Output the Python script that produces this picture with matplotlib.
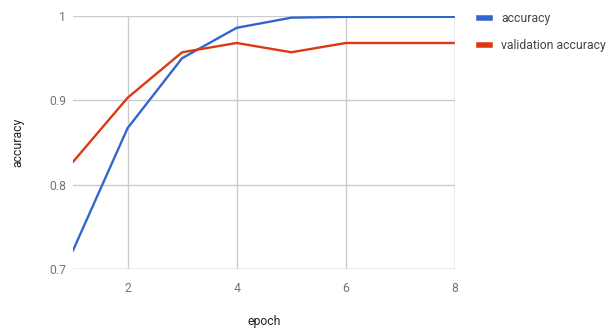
import matplotlib.pyplot as plt
from matplotlib.lines import Line2D

epochs = [1, 2, 3, 4, 5, 6, 7, 8]
accuracy = [0.722, 0.867, 0.950, 0.986, 0.998, 0.999, 0.999, 0.999]
val_accuracy = [0.827, 0.903, 0.957, 0.968, 0.957, 0.968, 0.968, 0.968]
x_ticks = [2, 4, 6, 8]
y_ticks = [0.7, 0.8, 0.9, 1.0]
y_tick_labels = ['0.7', '0.8', '0.9', '1']

plt.rcParams['font.family'] = ['Roboto', 'DejaVu Sans']
blue = '#3366cc'
red = '#dc3912'
grey_text = '#757575'
fs = 8.8

fig = plt.figure(figsize=(6.11, 3.29), dpi=100)
ax = fig.add_axes([73/611, 60/329, 382/611, 253/329])

ax.plot(epochs, accuracy, color=blue, lw=1.7, solid_joinstyle='round')
ax.plot(epochs, val_accuracy, color=red, lw=1.7, solid_joinstyle='round')

ax.set_xlim(1, 8)
ax.set_ylim(0.7, 1.0)
ax.set_xticks(x_ticks)
ax.set_yticks(y_ticks)
ax.set_yticklabels(y_tick_labels)
ax.grid(True, color='#cccccc', lw=1)
ax.axvline(8, color='#cccccc', lw=1)
ax.set_axisbelow(True)
for s in ax.spines.values():
    s.set_visible(False)
ax.axhline(0.7, color='#cccccc', lw=1)
ax.tick_params(length=0, labelsize=fs, labelcolor=grey_text, pad=9)
ax.tick_params(axis='y', pad=5)

ax.set_xlabel('epoch', fontsize=fs, color='#222222', labelpad=15)
ax.set_ylabel('accuracy', fontsize=fs, color='#222222', labelpad=18)

handles = [Line2D([], [], color=blue, lw=4), Line2D([], [], color=red, lw=4)]
fig.legend(handles, ['accuracy', 'validation accuracy'], loc='upper left',
           bbox_to_anchor=(468/611, 1 - 1/329), frameon=False, handlelength=0.9,
           handletextpad=0.9, labelspacing=1.15, fontsize=fs, labelcolor='#444444')

fig.savefig('out.png', dpi=100)
